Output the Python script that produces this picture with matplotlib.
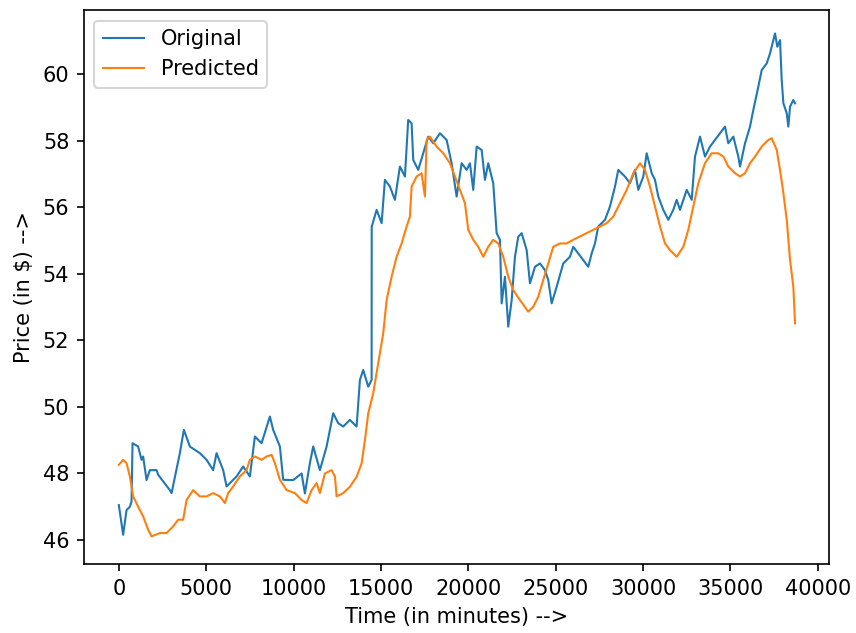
import numpy as np
import matplotlib.pyplot as plt

# original price (minute, price)
orig_t = [0, 246, 441, 630, 727, 784, 1105, 1299, 1391, 1586, 1774, 2158, 2250, 2919, 3017,
          3492, 3721, 4064, 4636, 5020, 5398, 5592, 5970, 6165, 6737, 7115, 7498, 7785, 8168,
          8643, 8832, 9216, 9405, 9977, 10458, 10647, 10933, 11122, 11505, 11889, 12267, 12553,
          12839, 13222, 13606, 13795, 13984, 14270, 14465, 14470, 14751, 15037, 15226, 15512,
          15798, 16084, 16371, 16559, 16754, 16846, 17132, 17418, 17704, 17991, 18374, 18757,
          19043, 19330, 19616, 19902, 20091, 20280, 20475, 20761, 20950, 21139, 21425, 21619,
          21808, 21906, 22095, 22284, 22479, 22667, 22856, 23051, 23337, 23526, 23812, 24098,
          24384, 24573, 24768, 25054, 25432, 25815, 26004, 26290, 26576, 26863, 27057, 27246,
          27435, 27819, 28105, 28391, 28580, 28963, 29249, 29536, 29725, 30011, 30205, 30491,
          30680, 30869, 31155, 31442, 31728, 31922, 32111, 32495, 32781, 32970, 33256, 33542,
          33828, 34114, 34401, 34687, 34876, 35162, 35448, 35546, 35832, 36118, 36307, 36593,
          36788, 37074, 37263, 37549, 37681, 37835, 37932, 38028, 38219, 38311, 38408, 38597,
          38694]
orig_p = [47.05, 46.16, 46.9, 47.0, 47.16, 48.91, 48.81, 48.41, 48.51, 47.8, 48.1, 48.1, 47.96,
          47.5, 47.41, 48.61, 49.31, 48.81, 48.61, 48.41, 48.1, 48.61, 48.1, 47.61, 47.91, 48.21,
          47.91, 49.11, 48.91, 49.71, 49.31, 48.81, 47.81, 47.8, 48.0, 47.4, 48.31, 48.81, 48.1,
          48.81, 49.81, 49.51, 49.41, 49.61, 49.41, 50.81, 51.11, 50.61, 50.81, 55.41, 55.92,
          55.52, 56.82, 56.62, 56.22, 57.22, 56.92, 58.62, 58.52, 57.42, 57.12, 57.62, 58.12,
          57.92, 58.22, 58.02, 57.32, 56.32, 57.32, 57.12, 57.32, 56.52, 57.82, 57.72, 56.82,
          57.32, 56.72, 55.22, 55.02, 53.11, 53.91, 52.41, 53.21, 54.51, 55.11, 55.22, 54.71,
          53.71, 54.21, 54.31, 54.11, 53.81, 53.11, 53.61, 54.31, 54.51, 54.81, 54.61, 54.41,
          54.21, 54.61, 54.91, 55.42, 55.62, 56.02, 56.62, 57.12, 56.92, 56.72, 57.12, 56.52,
          56.92, 57.62, 57.02, 56.82, 56.32, 55.92, 55.62, 55.92, 56.22, 55.92, 56.52, 56.22,
          57.52, 58.12, 57.52, 57.82, 58.02, 58.22, 58.42, 57.92, 58.12, 57.52, 57.22, 57.92,
          58.42, 58.92, 59.62, 60.12, 60.32, 60.62, 61.22, 60.82, 61.02, 59.82, 59.12, 58.82,
          58.42, 59.02, 59.22, 59.12]

# model prediction
pred_t = [0, 246, 441, 630, 819, 1105, 1391, 1677, 1872, 2347, 2730, 3108, 3394, 3680, 3875,
          4253, 4636, 5020, 5398, 5781, 6067, 6256, 6543, 6926, 7310, 7498, 7785, 8168, 8454,
          8741, 8929, 9216, 9599, 10074, 10458, 10744, 11030, 11317, 11505, 11791, 12175, 12364,
          12461, 12839, 13222, 13606, 13892, 14081, 14270, 14556, 14842, 15129, 15323, 15609,
          15896, 16182, 16468, 16657, 16754, 17040, 17326, 17515, 17613, 17802, 18185, 18563,
          18947, 19233, 19519, 19805, 19994, 20280, 20566, 20852, 21139, 21425, 21711, 21997,
          22284, 22570, 22953, 23428, 23714, 24000, 24287, 24573, 24859, 25243, 25626, 26004,
          26387, 26771, 27149, 27532, 27916, 28294, 28677, 29061, 29439, 29822, 30108, 30394,
          30680, 30967, 31253, 31539, 31922, 32301, 32587, 32873, 33159, 33542, 33925, 34303,
          34590, 34876, 35260, 35546, 35832, 36118, 36404, 36788, 37166, 37361, 37647, 37835,
          38028, 38219, 38408, 38597, 38694]
pred_p = [48.26, 48.41, 48.31, 47.91, 47.31, 47.0, 46.71, 46.31, 46.11, 46.21, 46.21, 46.41,
          46.61, 46.61, 47.2, 47.5, 47.31, 47.31, 47.41, 47.31, 47.11, 47.41, 47.61, 47.91, 48.1,
          48.41, 48.51, 48.41, 48.51, 48.56, 48.31, 47.81, 47.5, 47.41, 47.2, 47.11, 47.5, 47.71,
          47.41, 48.0, 48.1, 47.91, 47.31, 47.41, 47.6, 47.9, 48.3, 49.0, 49.8, 50.41, 51.31,
          52.21, 53.21, 53.91, 54.51, 54.91, 55.42, 55.72, 56.62, 56.92, 57.02, 56.32, 58.02,
          58.12, 57.82, 57.62, 57.32, 56.92, 56.52, 56.12, 55.32, 55.02, 54.81, 54.51, 54.81,
          55.02, 54.91, 54.51, 53.91, 53.51, 53.21, 52.86, 53.01, 53.31, 53.81, 54.31, 54.81,
          54.91, 54.91, 55.02, 55.12, 55.22, 55.32, 55.42, 55.52, 55.72, 56.12, 56.52, 57.02,
          57.32, 57.12, 56.62, 56.02, 55.42, 54.91, 54.71, 54.51, 54.81, 55.32, 56.02, 56.72,
          57.32, 57.62, 57.62, 57.52, 57.22, 57.02, 56.92, 57.02, 57.32, 57.52, 57.82, 58.02,
          58.07, 57.72, 57.12, 56.42, 55.62, 54.42, 53.61, 52.51]

fig = plt.figure(figsize=(856 / 150, 633 / 150), dpi=150)
ax = fig.add_axes([0.098, 0.109, 0.8705, 0.875])

ax.plot(orig_t, orig_p, color="tab:blue", lw=1.0, label="Original")
ax.plot(pred_t, pred_p, color="tab:orange", lw=1.0, label="Predicted")

ax.set_xlim(-2000, 40640)
ax.set_ylim(45.28, 61.92)
ax.set_xticks(np.arange(0, 40001, 5000))
ax.set_yticks(np.arange(46, 61, 2))
ax.set_xlabel("Time (in minutes) -->")
ax.set_ylabel("Price (in $) -->")
ax.legend(loc="upper left")

fig.savefig("out.png", dpi=150)
